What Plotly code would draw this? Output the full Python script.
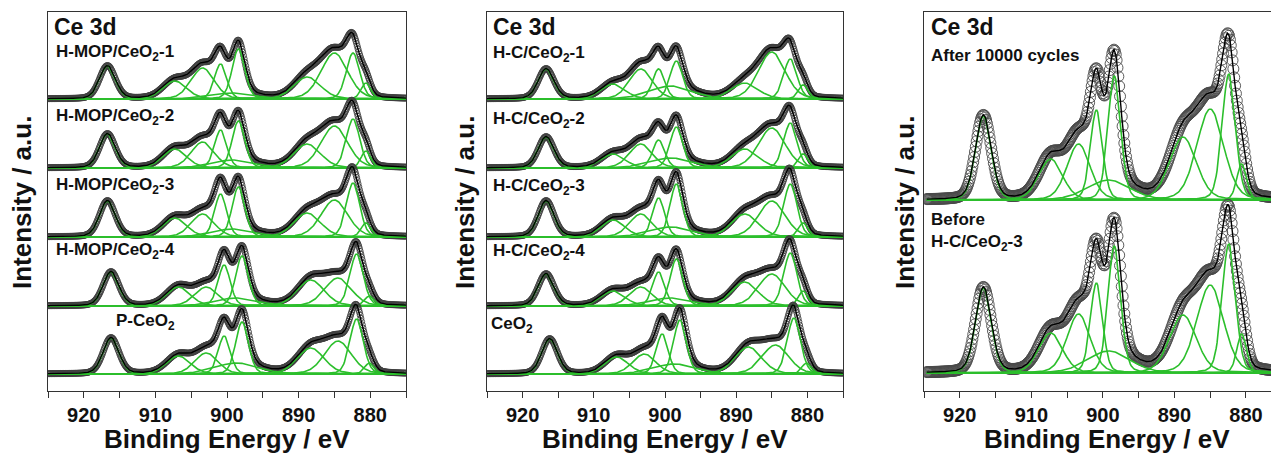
import numpy as np
import plotly.graph_objects as go

W, H = 1271, 455

# ---------------- data ----------------
PEAK_NAMES = ["u'''", "u''", "u'", "u", "v'''", "u0", "v''", "v'", "v", "v0"]
PEAK_CENTERS = [916.7, 907.3, 903.4, 900.9, 898.4, 899.2, 888.8, 885.0, 882.4, 880.6]
PEAK_FWHM = [2.6, 3.9, 3.8, 2.0, 2.1, 7.0, 4.4, 4.4, 2.2, 1.6]
LORENTZ_FRACTION = 0.2

# panel 1 samples
P1_LABELS = ["H-MOP/CeO<sub>2</sub>-1", "H-MOP/CeO<sub>2</sub>-2", "H-MOP/CeO<sub>2</sub>-3",
             "H-MOP/CeO<sub>2</sub>-4", "P-CeO<sub>2</sub>"]
P1_SHIFT = [0.0, 0.0, 0.0, -0.5, -0.5]
HMOP_1 = [33, 18, 31, 35, 50, 6, 22, 46, 46, 16]
HMOP_2 = [34, 19, 26, 38, 47, 8, 24, 42, 49, 17]
HMOP_3 = [36, 19, 23, 43, 50, 8, 24, 37, 54, 14]
HMOP_4 = [34, 19, 19, 41, 50, 8, 26, 28, 52, 10]
P_CEO2 = [36, 18, 21, 38, 52, 11, 26, 33, 55, 11]

# panel 2 samples
P2_LABELS = ["H-C/CeO<sub>2</sub>-1", "H-C/CeO<sub>2</sub>-2", "H-C/CeO<sub>2</sub>-3",
             "H-C/CeO<sub>2</sub>-4", "CeO<sub>2</sub>"]
P2_SHIFT = [0.0, 0.0, 0.0, 0.0, -0.5]
HC_1 = [30, 15, 30, 30, 38, 13, 16, 47, 40, 14]
HC_2 = [31, 14, 24, 28, 41, 10, 19, 40, 45, 14]
HC_3 = [36, 17, 23, 39, 53, 10, 23, 36, 53, 14]
HC_4 = [32, 15, 19, 34, 47, 8, 24, 32, 53, 15]
CEO2 = [35, 17, 20, 40, 54, 10, 27, 29, 56, 11]

# panel 3 samples
P3_LABELS = ["After 10000 cycles", "Before<br>H-C/CeO<sub>2</sub>-3"]
P3_SHIFT = [0.0, 0.0]
AFTER = [84, 41, 56, 90, 124, 20, 63, 91, 126, 36]
BEFORE = [85, 40, 59, 90, 127, 22, 58, 88, 129, 39]

TICK_VALUES = [920, 910, 900, 890, 880]
TICK_TEXT = ["920", "910", "900", "890", "880"]
X_TITLE = "Binding Energy / eV"
Y_TITLE = "Intensity / a.u."
HEADER = "Ce 3d"

# ---------------- layout helpers ----------------
GREEN = "#2cbf2c"
FRAME = "#333333"
FONT = "Liberation Sans"

TOP_PX, BOT_PX = 12, 391
YMAX = BOT_PX - TOP_PX


def px_x(x):
    return x / W


def px_y(y):
    return 1 - y / H


def to_unit(ypix):
    return BOT_PX - ypix


def peak(e, c, fwhm, h):
    s = fwhm / 2.3548
    g = np.exp(-0.5 * ((e - c) / s) ** 2)
    lz = 1.0 / (1.0 + ((e - c) / (fwhm / 2)) ** 2)
    return h * ((1 - LORENTZ_FRACTION) * g + LORENTZ_FRACTION * lz)


fig = go.Figure()

panels = [
    dict(dom=(48, 406), rng=[925, 875], spectra=[HMOP_1, HMOP_2, HMOP_3, HMOP_4, P_CEO2],
         shifts=P1_SHIFT, base_px=[99, 168, 237, 306, 374], sep=True, msize=6, step=0.1,
         mcol="#404040", erange=(875, 925)),
    dict(dom=(487, 843), rng=[925, 875], spectra=[HC_1, HC_2, HC_3, HC_4, CEO2],
         shifts=P2_SHIFT, base_px=[99, 168, 237, 306, 374], sep=True, msize=6, step=0.1,
         mcol="#404040", erange=(875, 925)),
    dict(dom=(924, 1271), rng=[925, 876.5], spectra=[AFTER, BEFORE],
         shifts=P3_SHIFT, base_px=[200, 373], sep=False, msize=11, step=0.12,
         mcol="#4a4a4a", erange=(876, 924.6)),
]

shapes = []
annotations = []

for i, p in enumerate(panels):
    n = i + 1
    xa = "x" if n == 1 else f"x{n}"
    ya = "y" if n == 1 else f"y{n}"
    e = np.arange(p["erange"][0], p["erange"][1] + 1e-9, p["step"])
    for heights, shift, bpx in zip(p["spectra"], p["shifts"], p["base_px"]):
        off = to_unit(bpx)
        comps = [peak(e, c + shift, w, h) for c, w, h in zip(PEAK_CENTERS, PEAK_FWHM, heights)]
        total = np.sum(comps, axis=0)
        fig.add_trace(go.Scatter(x=e, y=off + total, mode="markers", xaxis=xa, yaxis=ya,
                                 marker=dict(symbol="circle-open", size=p["msize"], color=p["mcol"],
                                             line=dict(width=0.9)),
                                 showlegend=False, hoverinfo="skip"))
        for comp in comps:
            fig.add_trace(go.Scatter(x=e, y=off + comp, mode="lines", xaxis=xa, yaxis=ya,
                                     line=dict(color=GREEN, width=1.6), showlegend=False,
                                     hoverinfo="skip"))
        fig.add_trace(go.Scatter(x=e, y=off + total, mode="lines", xaxis=xa, yaxis=ya,
                                 line=dict(color="black", width=1.4), showlegend=False,
                                 hoverinfo="skip"))
    if p["sep"]:
        for bpx in p["base_px"][:-1]:
            shapes.append(dict(type="line", xref=f"{xa} domain", yref=ya, x0=0, x1=1,
                               y0=to_unit(bpx), y1=to_unit(bpx),
                               line=dict(color=FRAME, width=1), layer="below"))
    dom = [px_x(p["dom"][0]), min(1.0, px_x(p["dom"][1]))]
    xkey = "xaxis" if n == 1 else f"xaxis{n}"
    ykey = "yaxis" if n == 1 else f"yaxis{n}"
    fig.update_layout(**{
        xkey: dict(domain=dom, range=p["rng"], anchor=ya, tickvals=TICK_VALUES, ticktext=TICK_TEXT,
                   ticks="outside", ticklen=6, tickwidth=1, tickcolor=FRAME,
                   minor=dict(ticks="outside", dtick=5, tick0=875, ticklen=6, tickcolor=FRAME),
                   showline=True, linecolor=FRAME, linewidth=1, mirror=True,
                   showgrid=False, zeroline=False,
                   tickfont=dict(family=FONT, size=20, color="#111", weight="bold")),
        ykey: dict(domain=[px_y(BOT_PX), px_y(TOP_PX)], range=[0, YMAX], anchor=xa,
                   showticklabels=False, ticks="", showgrid=False, zeroline=False,
                   showline=True, linecolor=FRAME, linewidth=1, mirror=p["sep"]),
    })
    # axis titles
    cx = (p["dom"][0] + p["dom"][1]) / 2 if n < 3 else (p["dom"][0] + 1289) / 2
    annotations.append(dict(text=X_TITLE, x=px_x(cx), y=px_y(439), xref="paper", yref="paper",
                            xanchor="center", yanchor="middle", showarrow=False,
                            font=dict(family=FONT, size=26, color="#111", weight="bold")))
    ylx = [22, 465, 905][i]
    annotations.append(dict(text=Y_TITLE, x=px_x(ylx), y=px_y(203), xref="paper", yref="paper",
                            xanchor="center", yanchor="middle", showarrow=False, textangle=-90,
                            font=dict(family=FONT, size=26, color="#111", weight="bold")))

# header + sample labels
for lx in (52, 491, 929):
    annotations.append(dict(text=HEADER, x=px_x(lx), y=px_y(27), xref="paper", yref="paper",
                            xanchor="left", yanchor="middle", showarrow=False,
                            font=dict(family=FONT, size=23, color="#111", weight="bold")))

p1_pos = [(54, 53), (54, 117), (54, 186), (54, 251), (114, 322)]
p2_pos = [(491, 54), (491, 120), (491, 187), (491, 252), (489, 325)]
p3_pos = [(929, 55), (929, 232)]
for labels, poss in [(P1_LABELS, p1_pos), (P2_LABELS, p2_pos), (P3_LABELS, p3_pos)]:
    for t, (lx, ly) in zip(labels, poss):
        annotations.append(dict(text=t, x=px_x(lx), y=px_y(ly), xref="paper", yref="paper",
                                xanchor="left", yanchor="middle", align="left", showarrow=False,
                                font=dict(family=FONT, size=17, color="#111", weight="bold")))

fig.update_layout(width=W, height=H, margin=dict(l=0, r=0, t=0, b=0),
                  plot_bgcolor="white", paper_bgcolor="white",
                  shapes=shapes, annotations=annotations, showlegend=False)

fig.write_html("out.html")
